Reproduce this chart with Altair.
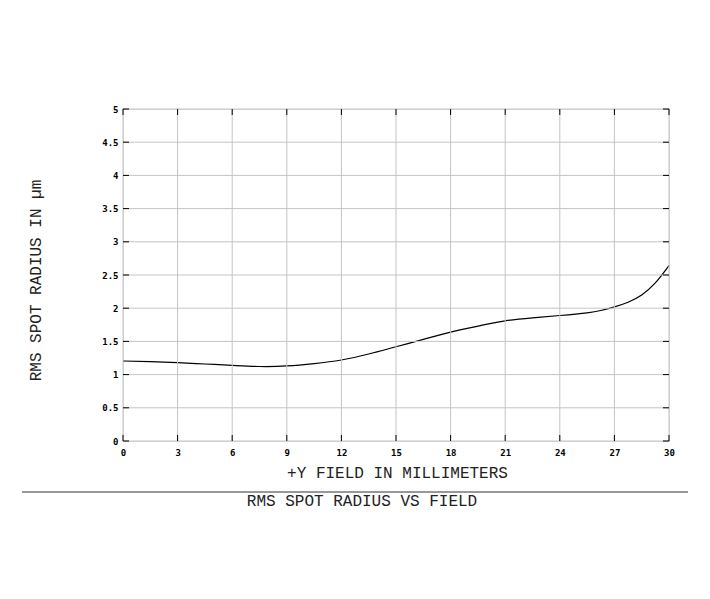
import altair as alt
import pandas as pd

field_mm = [0, 1.5, 3, 4.5, 6, 7.5, 9, 10.5, 12, 13.5, 15, 16.5, 18, 19.5, 21,
            22.5, 24, 25.5, 26.25, 27, 27.75, 28.5, 29.25, 30]
rms_um = [1.205, 1.195, 1.18, 1.16, 1.14, 1.122, 1.13, 1.165, 1.22, 1.31, 1.42,
          1.53, 1.64, 1.73, 1.81, 1.855, 1.89, 1.93, 1.965, 2.02, 2.09, 2.2,
          2.38, 2.64]
x_ticks = [0, 3, 6, 9, 12, 15, 18, 21, 24, 27, 30]
y_ticks = [0, 0.5, 1, 1.5, 2, 2.5, 3, 3.5, 4, 4.5, 5]

W, H = 546, 332
MONO = "Liberation Mono"
TICKFONT = "DejaVu Sans Mono"
GRID = "#c4c4c4"

df = pd.DataFrame({"field": field_mm, "rms": rms_um})
xt = pd.DataFrame({"field": x_ticks})
yt = pd.DataFrame({"rms": y_ticks})

xscale = alt.Scale(domain=[0, 30], nice=False, zero=False)
yscale = alt.Scale(domain=[0, 5], nice=False, zero=False)

xgrid = alt.Chart(xt).mark_rule(color=GRID, strokeWidth=1).encode(
    x=alt.X("field:Q", scale=xscale), y=alt.value(0), y2=alt.value(H))
ygrid = alt.Chart(yt).mark_rule(color=GRID, strokeWidth=1).encode(
    y=alt.Y("rms:Q", scale=yscale), x=alt.value(0), x2=alt.value(W))

line = alt.Chart(df).mark_line(color="black", strokeWidth=1.2, interpolate="natural").encode(
    x=alt.X("field:Q", scale=xscale,
            axis=alt.Axis(values=x_ticks, tickCount=len(x_ticks) + 2, grid=False, ticks=False,
                          domain=False, labelPadding=7, format="~g", labelFlush=False,
                          labelOverlap=False,
                          labelFont=TICKFONT, labelFontSize=9, labelFontWeight="bold",
                          labelColor="black",
                          title="+Y FIELD IN MILLIMETERS", titleFont=MONO, titleFontSize=16,
                          titleFontWeight="normal", titleColor="#222",
                          titleX=274, titleY=31, titleBaseline="middle", titleAlign="center")),
    y=alt.Y("rms:Q", scale=yscale,
            axis=alt.Axis(values=y_ticks, tickCount=len(y_ticks) + 2, grid=False, ticks=False,
                          domain=False, labelPadding=5, format="~g", labelFlush=False,
                          labelOverlap=False,
                          labelFont=TICKFONT, labelFontSize=9, labelFontWeight="bold",
                          labelColor="black",
                          title="RMS SPOT RADIUS IN µm", titleFont=MONO, titleFontSize=16,
                          titleFontWeight="normal", titleColor="#222",
                          titleX=-88, titleY=171, titleAngle=-90,
                          titleBaseline="middle", titleAlign="center")),
)

xt_bottom = alt.Chart(xt).mark_rule(color="black", strokeWidth=1).encode(
    x=alt.X("field:Q", scale=xscale), y=alt.value(H), y2=alt.value(H - 6))
xt_top = alt.Chart(xt).mark_rule(color="black", strokeWidth=1).encode(
    x=alt.X("field:Q", scale=xscale), y=alt.value(0), y2=alt.value(6))
yt_left = alt.Chart(yt).mark_rule(color="black", strokeWidth=1).encode(
    y=alt.Y("rms:Q", scale=yscale), x=alt.value(0), x2=alt.value(6))
yt_right = alt.Chart(yt).mark_rule(color="black", strokeWidth=1).encode(
    y=alt.Y("rms:Q", scale=yscale), x=alt.value(W), x2=alt.value(W - 6))

sep = alt.Chart(pd.DataFrame({"a": [0]})).mark_rule(color="#333", strokeWidth=1.2).encode(
    x=alt.value(-101), x2=alt.value(565), y=alt.value(383))
caption = alt.Chart(pd.DataFrame({"a": [0]})).mark_text(
    text="RMS SPOT RADIUS VS FIELD", font=MONO, fontSize=16, color="#222",
    align="center", baseline="middle").encode(x=alt.value(239), y=alt.value(392))

chart = alt.layer(line, xgrid, ygrid, xt_bottom, xt_top, yt_left, yt_right, sep, caption).properties(
    width=W, height=H,
    autosize=alt.AutoSizeParams(type="none"),
    padding={"left": 115, "top": 101, "right": 30, "bottom": 120},
).configure_view(stroke="black", strokeWidth=1.5).configure(background="white")

chart.save("out.html", embed_options={"renderer": "svg", "actions": False})
